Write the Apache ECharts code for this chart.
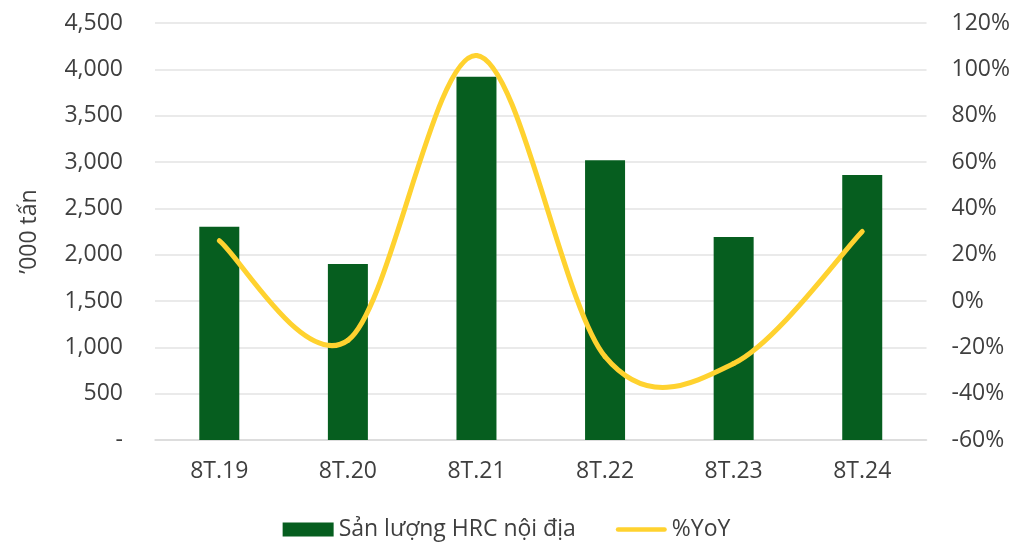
<!DOCTYPE html>
<html>
<head>
<meta charset="utf-8">
<script src="https://cdn.jsdelivr.net/npm/echarts@6/dist/echarts.min.js"></script>
<style>
  html, body { margin: 0; padding: 0; background: #fff; }
  #chart { width: 1013px; height: 542px; }
</style>
</head>
<body>
<div id="chart"></div>
<script>
// Domestic HRC output (thousand tonnes) and year-on-year change, first 8 months
const categories = ['8T.19', '8T.20', '8T.21', '8T.22', '8T.23', '8T.24'];
const output = [2300, 1900, 3920, 3020, 2190, 2860];
const yoy = [26, -17, 106, -24, -27, 30];

const leftTicks = { min: 0, max: 4500, interval: 500 };
const rightTicks = { min: -60, max: 120, interval: 20 };

const FONT = '"Open Sans", sans-serif';
const TEXT = '#3f3f3f';
const GREEN = '#065E1F';
const YELLOW = '#FFD22F';

const chart = echarts.init(document.getElementById('chart'), null, { renderer: 'canvas' });

// Smoothed YoY curve: each segment is a cubic Bezier whose tangents come
// from the neighbouring points (Catmull-Rom style, 1/6 tension).
function renderYoY(params, api) {
  const i = params.dataIndex;
  if (i >= yoy.length - 1) return null;
  const pts = yoy.map((v, k) => api.coord([k, v]));
  const p0 = pts[Math.max(i - 1, 0)];
  const p1 = pts[i];
  const p2 = pts[i + 1];
  const p3 = pts[Math.min(i + 2, pts.length - 1)];
  return {
    type: 'bezierCurve',
    shape: {
      x1: p1[0], y1: p1[1],
      x2: p2[0], y2: p2[1],
      cpx1: p1[0] + (p2[0] - p0[0]) / 6,
      cpy1: p1[1] + (p2[1] - p0[1]) / 6,
      cpx2: p2[0] - (p3[0] - p1[0]) / 6,
      cpy2: p2[1] - (p3[1] - p1[1]) / 6
    },
    style: { stroke: YELLOW, lineWidth: 5, fill: null, lineCap: 'round' },
    z2: 10
  };
}

chart.setOption({
  animation: false,
  textStyle: { fontFamily: FONT },
  grid: { left: 155, right: 86, top: 23, bottom: 102, containLabel: false },
  legend: {
    bottom: -4,
    left: 'center',
    itemWidth: 51,
    itemHeight: 14,
    itemGap: 40,
    textStyle: { fontFamily: FONT, fontSize: 23, color: TEXT },
    data: [
      { name: 'Sản lượng HRC nội địa', icon: 'rect' },
      { name: '%YoY', icon: 'path://M2.5,0 H53.5 A2.5,2.5 0 0 1 53.5,5 H2.5 A2.5,2.5 0 0 1 2.5,0 Z' }
    ]
  },
  xAxis: {
    type: 'category',
    data: categories,
    axisTick: { show: false },
    axisLine: { show: true, lineStyle: { color: '#d9d9d9', width: 1.5 } },
    axisLabel: { color: TEXT, fontSize: 23, fontFamily: FONT, margin: 20 }
  },
  yAxis: [
    {
      type: 'value',
      min: leftTicks.min,
      max: leftTicks.max,
      interval: leftTicks.interval,
      name: '’000 tấn',
      nameLocation: 'middle',
      nameGap: 114,
      nameTextStyle: { color: TEXT, fontSize: 23, fontFamily: FONT },
      axisLine: { show: false },
      axisTick: { show: false },
      splitLine: { lineStyle: { color: '#e3e3e3', width: 1.5 } },
      axisLabel: {
        color: TEXT, fontSize: 23, fontFamily: FONT, margin: 32,
        formatter: v => v === 0 ? '-' : v.toLocaleString('en-US')
      }
    },
    {
      type: 'value',
      min: rightTicks.min,
      max: rightTicks.max,
      interval: rightTicks.interval,
      position: 'right',
      axisLine: { show: false },
      axisTick: { show: false },
      splitLine: { show: false },
      axisLabel: {
        color: TEXT, fontSize: 23, fontFamily: FONT, margin: 25,
        formatter: v => v + '%'
      }
    }
  ],
  series: [
    {
      name: 'Sản lượng HRC nội địa',
      type: 'bar',
      data: output,
      barWidth: 40,
      itemStyle: { color: GREEN }
    },
    {
      name: '%YoY',
      type: 'custom',
      yAxisIndex: 1,
      data: yoy.map((v, k) => [k, v]),
      encode: { x: 0, y: 1 },
      itemStyle: { color: YELLOW },
      renderItem: renderYoY,
      z: 5
    }
  ]
});
</script>
</body>
</html>
